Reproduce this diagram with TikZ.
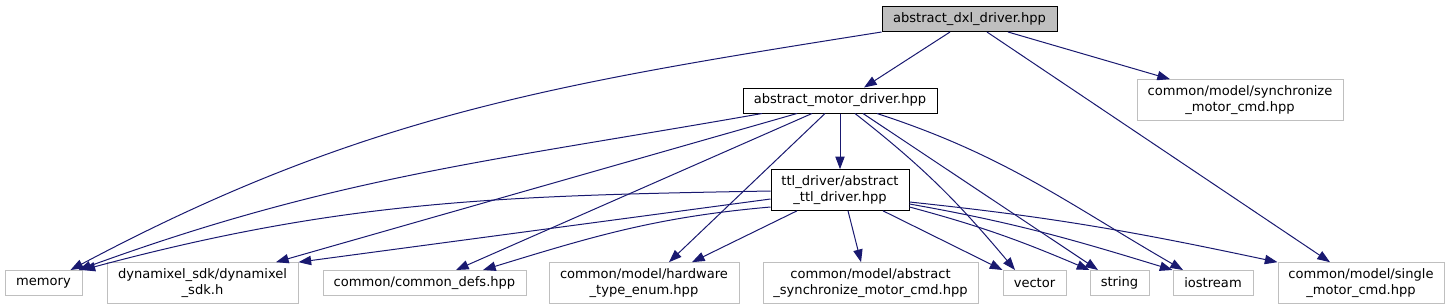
\documentclass[tikz,border=0pt]{standalone}
\usepackage{fontspec}
\setmainfont{DejaVu Sans}
\usepackage{tikz}
\usetikzlibrary{
  arrows.meta,
  positioning,
  calc
}
\definecolor{incEdge}{HTML}{191970}
\definecolor{incGray}{HTML}{BFBFBF}
\tikzset{
  hdrnode/.style={
    draw, inner sep=0pt, minimum height=18.75pt, line width=0.75pt,
    align=center, font=\fontsize{9.8}{11.5}\selectfont
  },
  hdrtwo/.style={minimum height=30.5pt},
  docnode/.style={hdrnode, draw=black, fill=white},
  curnode/.style={hdrnode, draw=black, fill=incGray},
  extnode/.style={hdrnode, draw=incGray, fill=white},
  incl/.style={-{Triangle[length=9.5pt, width=7pt]}, line width=0.75pt, incEdge}
}

\begin{document}
\begin{tikzpicture}[x=0.75pt, y=0.75pt]
  \useasboundingbox (0,0) rectangle (1450,-305);
  \node[curnode, minimum width=131.25pt] (dxl) at (969.5,-19) {abstract\_dxl\_driver.hpp};
  \node[docnode, minimum width=145.5pt] (motor) at (840,-100.5) {abstract\_motor\_driver.hpp};
  \node[extnode, hdrtwo, minimum width=154.5pt] (synccmd) at (1240,-100) {common/model/synchronize\\\_motor\_cmd.hpp};
  \node[docnode, hdrtwo, minimum width=103.5pt] (ttl) at (840,-190) {ttl\_driver/abstract\\\_ttl\_driver.hpp};
  \node[extnode, minimum width=57.75pt] (memory) at (43.5,-283) {memory};
  \node[extnode, hdrtwo, minimum width=143.25pt] (dynsdk) at (202.5,-283) {dynamixel\_sdk/dynamixel\\\_sdk.h};
  \node[extnode, minimum width=152.25pt] (commondefs) at (424.5,-283) {common/common\_defs.hpp};
  \node[extnode, hdrtwo, minimum width=142.5pt] (hwenum) at (644,-283) {common/model/hardware\\\_type\_enum.hpp};
  \node[extnode, hdrtwo, minimum width=161.25pt] (abssync) at (870.5,-283) {common/model/abstract\\\_synchronize\_motor\_cmd.hpp};
  \node[extnode, minimum width=47.25pt] (vector) at (1034.5,-283) {vector};
  \node[extnode, minimum width=44.25pt] (string) at (1119.5,-283) {string};
  \node[extnode, minimum width=60pt] (iostream) at (1213,-283) {iostream};
  \node[extnode, hdrtwo, minimum width=124.5pt] (single) at (1361,-283) {common/model/single\\\_motor\_cmd.hpp};

  \draw[incl] (dxl.south west) to[out=189, in=28] ([xshift=20.25pt]memory.north);
  \draw[incl] ([xshift=-14.6pt]dxl.south) -- ([xshift=18pt]motor.north);
  \draw[incl] ([xshift=13.1pt]dxl.south) -- ([xshift=-23.25pt]single.north);
  \draw[incl] ([xshift=28.9pt]dxl.south) -- ([xshift=-52.5pt]synccmd.north);

  \draw[incl] ([xshift=-58.5pt]motor.south) to[out=190, in=20] ([xshift=26.25pt]memory.north);
  \draw[incl] ([xshift=-32.25pt]motor.south) -- ([xshift=55.1pt]dynsdk.north);
  \draw[incl] ([xshift=-21pt]motor.south) -- ([xshift=23.6pt]commondefs.north);
  \draw[incl] ([xshift=-11.25pt]motor.south) -- ([xshift=18.75pt]hwenum.north);
  \draw[incl] (motor) -- (ttl);
  \draw[incl] ([xshift=11.25pt]motor.south) to[out=-38, in=130] ([xshift=-14.6pt]vector.north);
  \draw[incl] ([xshift=17.25pt]motor.south) -- ([xshift=-16.1pt]string.north);
  \draw[incl] ([xshift=27.75pt]motor.south) to[out=-18, in=150] ([xshift=-22.5pt]iostream.north);

  \draw[incl] ([yshift=-0.75pt]ttl.west) to[out=181, in=15] (memory.north east);
  \draw[incl] ([yshift=-6.75pt]ttl.west) -- (dynsdk.north east);
  \draw[incl] ([yshift=-12.75pt]ttl.west) to[out=185, in=17] ([xshift=43.9pt]commondefs.north);
  \draw[incl] ([xshift=-32.25pt]ttl.south) -- ([xshift=36pt]hwenum.north);
  \draw[incl] ([xshift=6pt]ttl.south) -- ([xshift=-7.1pt]abssync.north);
  \draw[incl] ([xshift=32.25pt]ttl.south) -- (vector.north west);
  \draw[incl] ([yshift=-12.75pt]ttl.east) to[out=-15, in=157] (string.north west);
  \draw[incl] ([yshift=-10.5pt]ttl.east) to[out=-10, in=163] (iostream.north west);
  \draw[incl] ([yshift=-9pt]ttl.east) to[out=-6, in=168] (single.north west);
\end{tikzpicture}
\end{document}
